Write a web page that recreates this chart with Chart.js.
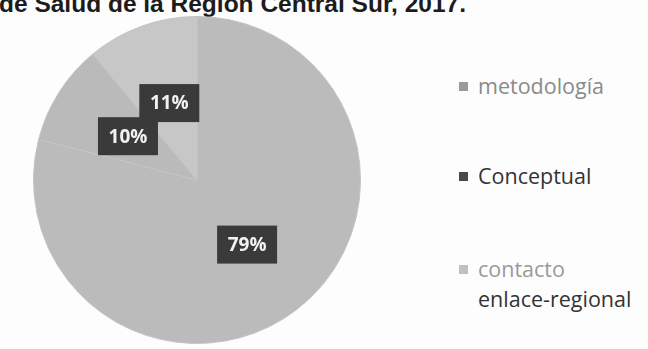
<!DOCTYPE html>
<html>
<head>
<meta charset="utf-8">
<script src="https://cdn.jsdelivr.net/npm/chart.js@4"></script>
<style>
  html, body { margin: 0; padding: 0; background: #fdfdfd; }
  body { width: 648px; height: 349px; position: relative; overflow: hidden; }
  #titulo {
    position: absolute; left: -1px; top: -8px; margin: 0;
    font: bold 24.5px "Liberation Sans", Arial, sans-serif; line-height: 24px;
    color: #1c1c1c; white-space: nowrap;
  }
  #wrap { position: absolute; left: 33px; top: 16px; width: 328px; height: 328px; }
  #leyenda {
    position: absolute; left: 458px; top: 0; width: 190px;
    font: 21.5px "Open Sans", sans-serif; line-height: 30px;
  }
  #leyenda .item { position: absolute; left: 0; padding-left: 20px; white-space: nowrap; }
  #leyenda .item span.box {
    position: absolute; left: 1px; top: 11px; width: 9px; height: 9px;
  }
  #leyenda .item:nth-child(1) { top: 71px; color: #8a8a8a; }
  #leyenda .item:nth-child(2) { top: 161px; color: #333; }
  #leyenda .item:nth-child(3) { top: 254px; color: #333; }
  #leyenda .item:nth-child(3)::first-line { color: #9a9a9a; }
</style>
</head>
<body>
<div id="titulo">de Salud de la Región Central Sur, 2017.</div>
<div id="wrap"><canvas id="pastel"></canvas></div>
<div id="leyenda"></div>
<script>
// categorias y porcentajes
const categorias = ['metodología', 'Conceptual', 'contacto enlace-regional'];
const porcentajes = [79, 10, 11];

const colores = ['#bbbbbb', '#bababa', '#c7c7c7'];
const coloresLeyenda = ['#9a9a9a', '#4a4a4a', '#c0c0c0'];

// etiquetas con fondo oscuro en el centro de cada porcion
const etiquetas = {
  id: 'etiquetas',
  afterDatasetsDraw(chart) {
    const ctx = chart.ctx;
    const meta = chart.getDatasetMeta(0);
    ctx.save();
    ctx.font = 'bold 19px "Open Sans", sans-serif';
    ctx.textAlign = 'center';
    ctx.textBaseline = 'middle';
    meta.data.forEach((arc, i) => {
      const p = arc.tooltipPosition();
      ctx.fillStyle = '#3a3a3a';
      ctx.fillRect(p.x - 30, p.y - 19, 60, 38);
      ctx.fillStyle = '#f2f2f2';
      ctx.fillText(porcentajes[i] + '%', p.x, p.y + 1);
    });
    ctx.restore();
  }
};

const ctx = document.getElementById('pastel').getContext('2d');
const grafico = new Chart(ctx, {
  type: 'pie',
  data: {
    labels: categorias,
    datasets: [{
      data: porcentajes,
      backgroundColor: colores,
      borderColor: '#c4c4c4',
      borderWidth: 1
    }]
  },
  options: {
    responsive: true,
    maintainAspectRatio: false,
    animation: false,
    layout: { padding: 0 },
    plugins: {
      legend: { display: false },
      tooltip: { enabled: false }
    }
  },
  plugins: [etiquetas]
});

// leyenda a la derecha; las etiquetas largas pasan a dos lineas
const leyenda = document.getElementById('leyenda');
categorias.forEach((c, i) => {
  const item = document.createElement('div');
  item.className = 'item';
  const box = document.createElement('span');
  box.className = 'box';
  box.style.background = coloresLeyenda[i];
  item.appendChild(box);
  const partes = c.length > 15 ? c.split(' ') : [c];
  partes.forEach((p, j) => {
    if (j > 0) item.appendChild(document.createElement('br'));
    item.appendChild(document.createTextNode(p));
  });
  leyenda.appendChild(item);
});
</script>
</body>
</html>
